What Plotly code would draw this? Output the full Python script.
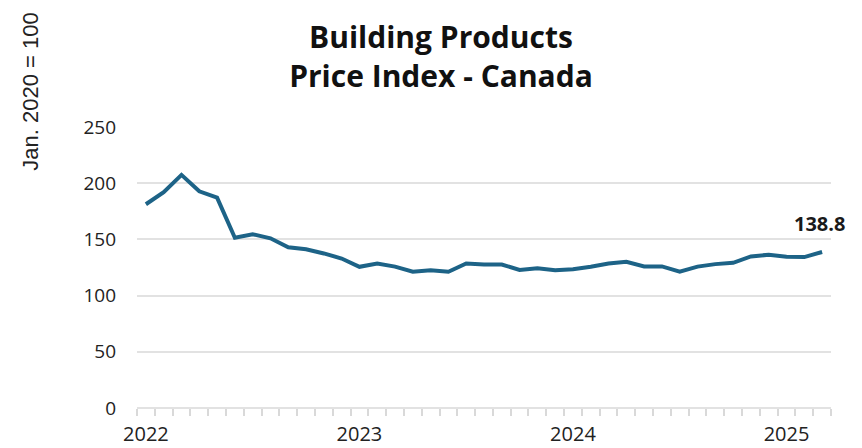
import plotly.graph_objects as go

# Monthly Building Products Price Index, Canada (Jan. 2020 = 100), Jan 2022 - Mar 2025
months = [f"{y}-{m:02d}" for y in range(2022, 2026) for m in range(1, 13)][:39]
index_values = [
    181.3, 192.0, 207.4, 192.8, 187.2, 151.5, 154.6, 151.0, 143.0, 141.2, 137.5, 133.0,
    125.6, 128.6, 125.8, 121.2, 122.6, 121.2, 128.6, 127.7, 127.7, 122.8, 124.4, 122.6,
    123.5, 125.6, 128.6, 130.0, 126.0, 126.0, 121.3, 125.8, 128.0, 129.2, 134.8, 136.4,
    134.6, 134.3, 138.8,
]
year_labels = ["2022", "2023", "2024", "2025"]
y_ticks = [0, 50, 100, 150, 200, 250]

x_pos = list(range(len(months)))
year_pos = [months.index(f"{y}-01") for y in year_labels]
boundaries = [i - 0.5 for i in range(len(months) + 1)]
x_range = [boundaries[0], boundaries[-1]]

LINE = "#1d6387"
GRID = "#e2e2e2"
Y_FONT = dict(family="Open Sans", size=19, color="#222222")
X_FONT = dict(family="Open Sans", size=20, color="#222222")

fig = go.Figure()
fig.add_trace(go.Scatter(
    x=x_pos, y=index_values, mode="lines",
    line=dict(color=LINE, width=4),
    customdata=months, hovertemplate="%{customdata}: %{y:.1f}<extra></extra>",
    showlegend=False,
))

# latest value label
fig.add_annotation(
    x=x_pos[-1], y=index_values[-1], xref="x", yref="y",
    text=f"{index_values[-1]:.1f}", showarrow=False,
    yshift=28, xshift=-3,
    font=dict(family="Open Sans", size=20, color="#1a1a1a", weight=700),
)

# vertical axis caption
fig.add_annotation(
    x=-0.154, y=1.126, xref="paper", yref="paper",
    xanchor="center", yanchor="middle",
    text="Jan. 2020 = 100", textangle=-90, showarrow=False,
    font=dict(family="Liberation Sans", size=22, color="#222222"),
)

fig.update_layout(
    width=862, height=448,
    margin=dict(l=137, r=31, t=127, b=40),
    paper_bgcolor="white", plot_bgcolor="white",
    title=dict(
        text="Building Products<br>Price Index - Canada",
        x=0.5116, xanchor="center", xref="container",
        y=1 - 48 / 448, yanchor="top", yref="container",
        font=dict(family="Open Sans", size=30, color="#111111", weight=700),
    ),
    xaxis=dict(
        range=x_range, tickmode="array", tickvals=year_pos, ticktext=year_labels,
        ticks="", showgrid=False, zeroline=False, showline=False, automargin=False,
        tickfont=X_FONT, ticklabelstandoff=12,
        minor=dict(tickmode="array", tickvals=boundaries, ticks="outside",
                   ticklen=7, tickwidth=1.5, tickcolor="#d9d9d9", showgrid=False),
    ),
    xaxis2=dict(
        overlaying="x", anchor="y", side="bottom", range=x_range, automargin=False,
        tickmode="array", tickvals=boundaries, ticks="inside",
        ticklen=7, tickwidth=1.5, tickcolor="#d9d9d9",
        showticklabels=False, showgrid=False, zeroline=False, showline=False,
    ),
    yaxis=dict(
        range=[0, 250], tickmode="array", tickvals=y_ticks, automargin=False,
        showgrid=True, gridcolor=GRID, gridwidth=2,
        zeroline=True, zerolinecolor=GRID, zerolinewidth=2,
        ticks="", tickfont=Y_FONT, ticklabelstandoff=20, showline=False,
    ),
)

fig.write_html("out.html")
